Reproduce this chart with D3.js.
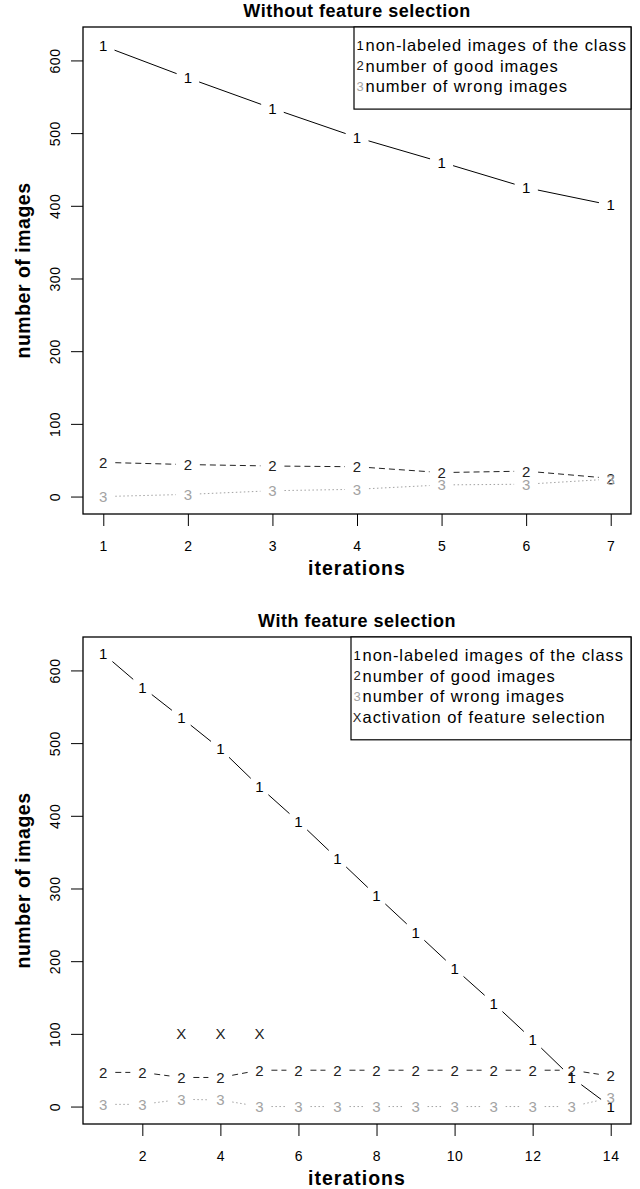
<!DOCTYPE html>
<html>
<head>
<meta charset="utf-8">
<script src="https://cdn.jsdelivr.net/npm/d3@7"></script>
<style>
  body { margin: 0; background: #fff; }
  text { font-family: "Liberation Sans", Arial, sans-serif; }
</style>
</head>
<body>
<svg width="640" height="1189"></svg>
<script>
// ---- data ----
var topIterations = [1, 2, 3, 4, 5, 6, 7];
var topNonLabeled = [620, 576, 534, 494, 460, 425, 401];
var topGood = [47, 44, 42, 41, 33, 35, 25];
var topWrong = [0, 3, 8, 10, 16, 17, 24];

var botIterations = [1, 2, 3, 4, 5, 6, 7, 8, 9, 10, 11, 12, 13, 14];
var botNonLabeled = [623, 577, 535, 492, 440, 392, 341, 290, 240, 190, 142, 92, 40, 0];
var botGood = [47, 47, 40, 40, 50, 50, 50, 50, 50, 50, 50, 50, 50, 42];
var botWrong = [3, 3, 10, 9, 0, 0, 0, 0, 0, 0, 0, 0, 0, 12];
var activationIter = [3, 4, 5];
var activationValue = [100, 100, 100];

var yTicks = [0, 100, 200, 300, 400, 500, 600];
var topXTicks = [1, 2, 3, 4, 5, 6, 7];
var botXTicks = [2, 4, 6, 8, 10, 12, 14];

var legendLabels = ["non-labeled images of the class", "number of good images", "number of wrong images"];
var activationLabel = "activation of feature selection";

var svg = d3.select("svg");
var gray = "#a3a3a3";

function drawPanel(top, title, iters, s1, s2, s3, xTicks, legendLeft, withX) {
    var left = 83, right = 631, bottom = top + 487;
    var n = iters[iters.length - 1] - iters[0];
    var x = d3.scaleLinear()
        .domain([iters[0] - 0.04 * n, iters[iters.length - 1] + 0.04 * n])
        .range([left, right]);
    var y = d3.scaleLinear().domain([-24, 646]).range([bottom, top]);

    var g = svg.append("g");

    // axes
    var ya = g.append("g").attr("transform", "translate(" + left + ",0)")
        .call(d3.axisLeft(y).tickValues(yTicks).tickSize(12).tickSizeOuter(0));
    ya.select(".domain").remove();
    ya.selectAll("line").attr("stroke", "#000");
    ya.selectAll("text")
        .attr("transform", "rotate(-90)")
        .attr("x", 0).attr("y", -23).attr("dy", 0)
        .attr("text-anchor", "middle")
        .attr("font-size", 14).attr("fill", "#000")
        .style("letter-spacing", "0.6px")
        .style("font-family", "Liberation Sans, Arial, sans-serif");

    var xa = g.append("g").attr("transform", "translate(0," + bottom + ")")
        .call(d3.axisBottom(x).tickValues(xTicks).tickFormat(d3.format("d"))
            .tickSize(12).tickPadding(15));
    xa.select(".domain").remove();
    xa.selectAll("line").attr("stroke", "#000");
    xa.selectAll("text").attr("font-size", 14).attr("fill", "#000")
        .style("letter-spacing", "0.6px")
        .style("font-family", "Liberation Sans, Arial, sans-serif");

    // box
    g.append("rect").attr("x", left).attr("y", top)
        .attr("width", right - left).attr("height", bottom - top)
        .attr("fill", "none").attr("stroke", "#000").attr("stroke-width", 1.3);

    // titles
    g.append("text").attr("x", (left + right) / 2).attr("y", top - 10)
        .attr("text-anchor", "middle").attr("font-size", 18).attr("font-weight", "bold")
        .style("letter-spacing", "0.5px")
        .text(title);
    g.append("text").attr("x", (left + right) / 2).attr("y", bottom + 61)
        .attr("text-anchor", "middle").attr("font-size", 19.5).attr("font-weight", "bold")
        .style("letter-spacing", "1px")
        .text("iterations");
    g.append("text")
        .attr("transform", "translate(30," + ((top + bottom) / 2) + ") rotate(-90)")
        .attr("text-anchor", "middle").attr("font-size", 19.5).attr("font-weight", "bold")
        .style("letter-spacing", "0.5px")
        .text("number of images");

    // type="b" series: symbols with gapped segments
    function series(vals, sym, color, dash) {
        var pts = iters.map(function (it, i) { return [x(it), y(vals[i])]; });
        var gap = 12;
        for (var i = 0; i < pts.length - 1; i++) {
            var dx = pts[i + 1][0] - pts[i][0], dy = pts[i + 1][1] - pts[i][1];
            var len = Math.sqrt(dx * dx + dy * dy);
            if (len <= 2 * gap) continue;
            var ux = dx / len, uy = dy / len;
            g.append("line")
                .attr("x1", pts[i][0] + ux * gap).attr("y1", pts[i][1] + uy * gap)
                .attr("x2", pts[i + 1][0] - ux * gap).attr("y2", pts[i + 1][1] - uy * gap)
                .attr("stroke", color).attr("stroke-width", 1)
                .attr("stroke-dasharray", dash);
        }
        g.selectAll(null).data(pts).enter().append("text")
            .attr("x", function (d) { return d[0]; })
            .attr("y", function (d) { return d[1]; })
            .attr("dy", "0.36em").attr("text-anchor", "middle")
            .attr("font-size", 15).attr("fill", color)
            .text(sym);
    }
    series(s1, "1", "#000", null);
    series(s2, "2", "#222", "6,4");
    series(s3, "3", gray, "1.5,2.5");

    if (withX) {
        g.selectAll(null).data(activationIter).enter().append("text")
            .attr("x", function (d) { return x(d); })
            .attr("y", function (d, i) { return y(activationValue[i]); })
            .attr("dy", "0.36em").attr("text-anchor", "middle")
            .attr("font-size", 15).attr("fill", "#222")
            .text("X");
    }

    // legend
    var labels = legendLabels.slice();
    var syms = ["1", "2", "3"], cols = ["#000", "#222", gray];
    if (withX) { labels.push(activationLabel); syms.push("X"); cols.push("#222"); }
    var rowH = 20.7;
    var lh = 10 + labels.length * rowH + 10;
    g.append("rect").attr("x", legendLeft).attr("y", top)
        .attr("width", right - legendLeft).attr("height", lh)
        .attr("fill", "#fff").attr("stroke", "#000").attr("stroke-width", 1.2);
    labels.forEach(function (lab, i) {
        var cy = top + 18 + i * rowH;
        g.append("text").attr("x", legendLeft + 6).attr("y", cy).attr("dy", "0.36em")
            .attr("text-anchor", "middle").attr("font-size", 13).attr("fill", cols[i])
            .text(syms[i]);
        g.append("text").attr("x", legendLeft + 11.5).attr("y", cy).attr("dy", "0.36em")
            .attr("font-size", 16.5).attr("fill", "#000")
            .style("letter-spacing", "0.95px")
            .text(lab);
    });
}

drawPanel(27, "Without feature selection", topIterations, topNonLabeled, topGood, topWrong,
    topXTicks, 354, false);
drawPanel(637, "With feature selection", botIterations, botNonLabeled, botGood, botWrong,
    botXTicks, 351, true);
</script>
</body>
</html>
